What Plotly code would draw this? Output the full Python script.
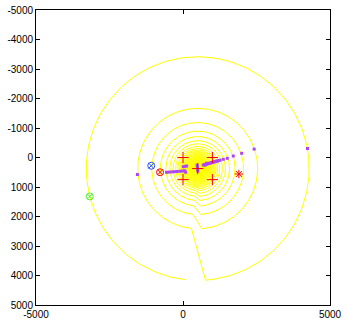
import numpy as np
import plotly.graph_objects as go

# contour rings (centre, radii, outer -> inner)
ring_center = (500, 375)
ring_radii = [3790, 2040, 1560, 1270, 1085, 945, 840, 750, 680,
              630, 590, 555, 522, 492, 465, 440, 417, 396, 376, 358, 341,
              325, 310, 296, 283, 270, 258, 247, 236, 226, 216, 207, 198,
              189, 181, 173, 165, 157, 150, 143, 136, 129, 122, 115, 108,
              101, 94, 87, 80, 73, 66]
# angular gap at the bottom of each ring (deg from "down", + towards +x)
gap_left_deg = -6
gap_right_deg = 4

# estimated positions (magenta dots)
est_x = [-1551, -560, -470, -380, -290, -200, -110, -20, 60, 90,
         10, 70, 124, 480, 490, 500, 505, 750, 805,
         690, 730, 760, 795, 830, 865, 900, 935, 970, 1005, 1040, 1075,
         1110, 1145, 1180, 1220, 1259, 1372, 1507,
         1711, 1996, 2420, 4234]
est_y = [576, 502, 495, 488, 481, 474, 467, 460, 450, 500,
         312, 300, 288, 260, 330, 400, 460, 255, 195,
         254, 245, 235, 225, 215, 205, 195, 185, 175, 165, 155, 145,
         135, 125, 115, 103, 90, 61, 27,
         -51, -142, -285, -305]

# sensor positions (red pluses)
sensor_x = [0, 1000, 0, 1000, 500]
sensor_y = [0, 0, 750, 750, 375]

# single markers
blue_pt = (-1080, 280)
red_pt = (-780, 500)
green_pt = (-3170, 1320)
star_pt = (1900, 560)

x_ticks = [-5000, 0, 5000]
y_ticks = [-5000, -4000, -3000, -2000, -1000, 0, 1000, 2000, 3000, 4000, 5000]


def ring_path():
    # one polyline: each ring runs round from the left side of the gap to the
    # right side, then a straight piece joins the next ring inwards
    cx, cy = ring_center
    xs, ys = [], []
    phi = np.radians(np.linspace(gap_left_deg, gap_right_deg - 360, 240))
    for r in ring_radii:
        xs.extend(cx + r * np.sin(phi))
        ys.extend(cy + r * np.cos(phi))
    return xs, ys


fig = go.Figure()

rx, ry = ring_path()
fig.add_trace(go.Scatter(x=rx, y=ry, mode="lines",
                         line=dict(color="rgb(255,255,0)", width=1)))
fig.add_trace(go.Scatter(x=est_x, y=est_y, mode="markers",
                         marker=dict(color="rgb(175,70,245)", size=3, symbol="square",
                                     line=dict(width=0))))
fig.add_trace(go.Scatter(x=sensor_x, y=sensor_y, mode="markers",
                         marker=dict(symbol="cross-thin-open", size=8, color="rgb(255,0,0)",
                                     line=dict(color="rgb(255,0,0)", width=1))))
for (px, py), col in [(blue_pt, "rgb(40,80,255)"), (red_pt, "rgb(255,0,0)"),
                      (green_pt, "rgb(90,230,50)")]:
    fig.add_trace(go.Scatter(x=[px], y=[py], mode="markers",
                             marker=dict(symbol="circle-x-open", size=7, color=col,
                                         line=dict(color=col, width=1))))
fig.add_trace(go.Scatter(x=[star_pt[0]], y=[star_pt[1]], mode="markers",
                         marker=dict(symbol="asterisk-open", size=7, color="red",
                                     line=dict(color="red", width=1))))

axis_style = dict(showgrid=False, zeroline=False, showline=True, mirror="ticks",
                  linecolor="black", linewidth=1, ticks="inside", ticklen=4,
                  tickcolor="black", automargin=False,
                  tickfont=dict(family="Liberation Sans, Arial", size=10, color="black"))
fig.update_xaxes(range=[-5000, 5000], tickvals=x_ticks,
                 ticktext=[str(v) for v in x_ticks], **axis_style)
fig.update_yaxes(range=[5000, -5000], tickvals=y_ticks,
                 ticktext=[str(v) for v in y_ticks], **axis_style)
fig.update_layout(width=346, height=320, showlegend=False,
                  plot_bgcolor="white", paper_bgcolor="white",
                  margin=dict(l=36, r=16, t=10, b=15))

# drop the page's default body margin so the figure fills the window
fig.write_html("out.html", config={"displayModeBar": False},
               post_script="document.body.style.margin='0';")
